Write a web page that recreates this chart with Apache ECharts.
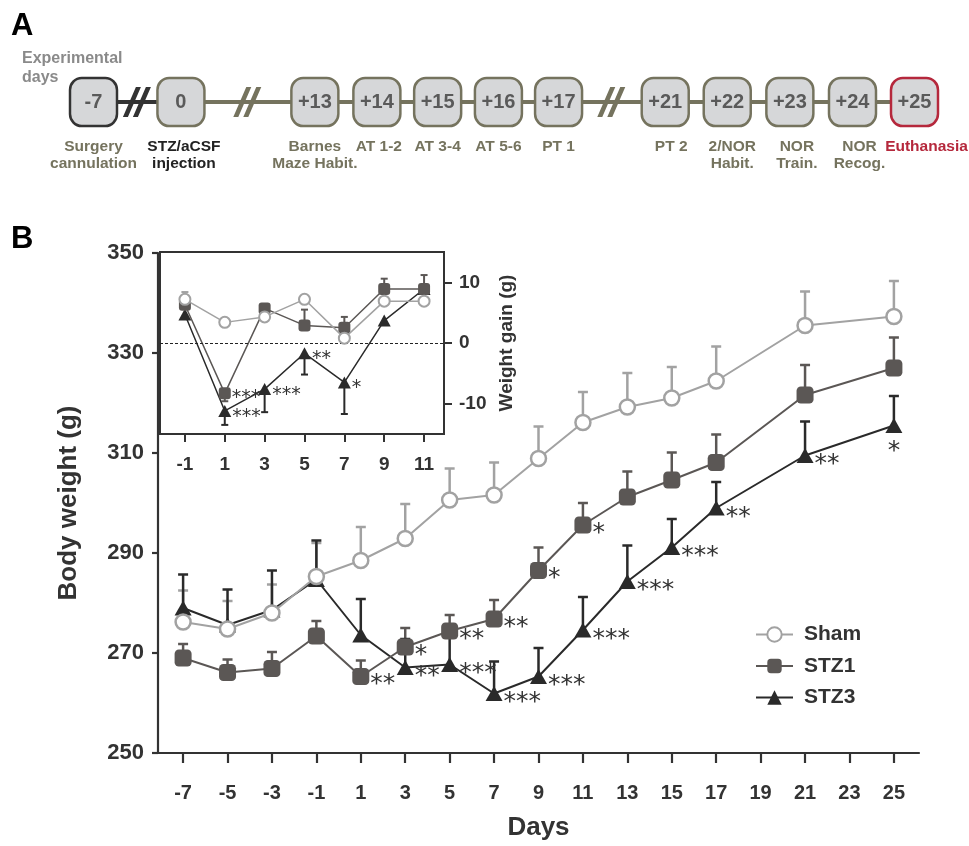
<!DOCTYPE html>
<html>
<head>
<meta charset="utf-8">
<script src="https://cdn.jsdelivr.net/npm/echarts@6/dist/echarts.min.js"></script>
<style>
html,body{margin:0;padding:0;background:#fff;}
#chart{width:969px;height:846px;}
</style>
</head>
<body>
<div id="chart"></div>
<script>
// ---------- Panel A: timeline ----------
const timelineDays = ['-7','0','+13','+14','+15','+16','+17','+21','+22','+23','+24','+25'];
const timelineEvents = ['Surgery\ncannulation','STZ/aCSF\ninjection','Barnes\nMaze Habit.','AT 1-2','AT 3-4','AT 5-6','PT 1','PT 2','2/NOR\nHabit.','NOR\nTrain.','NOR\nRecog.','Euthanasia'];
const timelineSlot = [0, 1.41, 3.57, 4.57, 5.55, 6.53, 7.5, 9.22, 10.22, 11.23, 12.24, 13.24];
const timelineBreaks = [0.70, 2.48, 8.35];

// ---------- Panel B: main body weight ----------
const days = [-7,-5,-3,-1,1,3,5,7,9,11,13,15,17,21,25];
const dayTicks = [-7,-5,-3,-1,1,3,5,7,9,11,13,15,17,19,21,23,25];
const sham    = [276.2,274.8,278.0,285.3,288.5,292.9,300.6,301.6,308.9,316.1,319.2,321.0,324.4,335.5,337.3];
const shamErr = [282.5,280.4,283.7,292.0,295.2,299.8,306.9,308.1,315.3,322.2,326.0,327.2,331.3,342.3,344.4];
const stz1    = [269.0,266.1,266.9,273.4,265.3,271.2,274.4,276.8,286.5,295.6,301.2,304.6,308.1,321.6,327.0];
const stz1Err = [271.8,268.7,270.2,276.4,268.5,275.0,277.6,280.6,291.1,300.0,306.3,310.1,313.7,327.6,333.1];
const stz3    = [279.0,275.6,278.6,284.7,273.6,267.1,267.7,261.9,265.3,274.6,284.3,291.1,299.0,309.5,315.5];
const stz3Err = [285.7,282.7,286.5,292.5,280.8,272.8,275.5,268.3,271.0,281.2,291.5,296.8,304.2,316.3,321.4];
const stz1Sig = ['','','','','**','*','**','**','*','*','','','','',''];
const stz3Sig = ['','','','','','**','***','***','***','***','***','***','**','**','*'];
const weightTicks = [250,270,290,310,330,350];

// ---------- Inset: weight gain ----------
const insetDays = [-1,1,3,5,7,9,11];
const shamGain    = [7.2,3.4,4.3,7.2,0.8,6.9,6.9];
const shamGainErr = [8.4,null,null,null,null,null,null];
const stz1Gain    = [6.3,-8.3,5.7,2.9,2.5,8.9,8.9];
const stz1GainErr = [null,-9.6,null,5.5,4.3,10.6,11.2];
const stz3Gain    = [4.7,-11.2,-7.6,-1.7,-6.5,3.7,8.9];
const stz3GainErr = [null,-13.5,-11.4,-5.2,-11.7,null,null];
const stz1GainSig = ['','***','','','','',''];
const stz3GainSig = ['','***','***','**','*','',''];
const gainTicks = [-10,0,10];

// ---------- styles ----------
const C_SHAM = '#a2a2a2', C_STZ1 = '#5b5755', C_STZ3 = '#2a2a2a';
const OLIVE = '#75735e', DARK = '#333333', RED = '#b5283c';
const FONT = 'Liberation Sans, Arial, sans-serif';
const eventLabelShift = [0,3,0,2,0,0,0,6,5,7,7,12]; // horizontal nudges of the event captions (px)

function errData(xs, ys, es){
  const out = [];
  xs.forEach((x,i)=>{ if(es[i]!==null && es[i]!==undefined) out.push([x, ys[i], es[i]]); });
  return out;
}
function errRender(capW, lw, color){
  return function(params, api){
    const x = api.value(0), y = api.value(1), e = api.value(2);
    const p0 = api.coord([x,y]), p1 = api.coord([x,e]);
    return {type:'group', children:[
      {type:'line', shape:{x1:p0[0],y1:p0[1],x2:p1[0],y2:p1[1]}, style:{stroke:color,lineWidth:lw}},
      {type:'line', shape:{x1:p1[0]-capW/2,y1:p1[1],x2:p1[0]+capW/2,y2:p1[1]}, style:{stroke:color,lineWidth:lw}}
    ]};
  };
}
function lineData(xs, ys, sigs, opts){
  return xs.map((x,i)=>{
    const item = {value:[x, ys[i]]};
    if(sigs && sigs[i]){
      item.label = Object.assign({show:true, formatter:sigs[i]}, (opts && opts(i, xs.length)) || {});
    }
    return item;
  });
}

const chart = echarts.init(document.getElementById('chart'), null, {renderer:'canvas'});

const boxBorder = timelineDays.map((d,i)=> i===0 ? DARK : (i===timelineDays.length-1 ? RED : OLIVE));
const eventColor = timelineDays.map((d,i)=> i===1 ? '#222' : (i===timelineDays.length-1 ? RED : OLIVE));

const option = {
  animation:false,
  backgroundColor:'#fff',
  title:[
    {text:'A', left:11, top:11, padding:0, textStyle:{fontFamily:FONT,fontSize:31,fontWeight:'bold',color:'#000'}},
    {text:'B', left:11, top:224, padding:0, textStyle:{fontFamily:FONT,fontSize:31,fontWeight:'bold',color:'#000'}},
    {text:'Experimental\ndays', left:22, top:49, padding:0, textStyle:{fontFamily:FONT,fontSize:16,fontWeight:'bold',color:'#8a8a8a',lineHeight:19}}
  ],
  legend:{
    data:['Sham','STZ1','STZ3'], orient:'vertical', left:755, top:624, padding:0,
    itemWidth:37, itemHeight:18, itemGap:10.5,
    textStyle:{fontFamily:FONT,fontSize:21,fontWeight:'bold',color:'#333',padding:[0,0,0,6]}
  },
  grid:[
    {left:158, top:253, width:761, height:504},
    {left:160, top:252, width:284, height:182, show:true, borderColor:'#333', borderWidth:2, backgroundColor:'transparent'},
    {left:93.5, top:52, width:821, height:100}
  ],
  xAxis:[
    {gridIndex:0, type:'value', min:-8.13, max:26.13,
      axisLine:{onZero:false, lineStyle:{color:'#333',width:2.2}},
      axisTick:{show:true, length:10, lineStyle:{color:'#333',width:2.2}, customValues:dayTicks},
      axisLabel:{customValues:dayTicks, margin:30, fontFamily:FONT, fontSize:20, fontWeight:'bold', color:'#333'},
      splitLine:{show:false},
      name:'Days', nameLocation:'middle', nameGap:62,
      nameTextStyle:{fontFamily:FONT,fontSize:26,fontWeight:'bold',color:'#333'}},
    {gridIndex:1, type:'value', min:-2.25, max:12.0,
      axisLine:{onZero:false, lineStyle:{color:'#333',width:2}},
      axisTick:{show:true, length:8, lineStyle:{color:'#333',width:2}, customValues:insetDays},
      axisLabel:{customValues:insetDays, margin:21, fontFamily:FONT, fontSize:19, fontWeight:'bold', color:'#333'},
      splitLine:{show:false}},
    {gridIndex:2, type:'value', min:0, max:13.24, show:false}
  ],
  yAxis:[
    {gridIndex:0, type:'value', min:250, max:350, interval:20,
      axisLine:{show:true, onZero:false, lineStyle:{color:'#333',width:2.2}},
      axisTick:{show:true, length:6, lineStyle:{color:'#333',width:2.2}},
      axisLabel:{margin:14, fontFamily:FONT, fontSize:22, fontWeight:'bold', color:'#333'},
      splitLine:{show:false},
      name:'Body weight (g)', nameLocation:'middle', nameGap:76, nameRotate:90,
      nameTextStyle:{fontFamily:FONT,fontSize:26,fontWeight:'bold',color:'#333'}},
    {gridIndex:1, type:'value', min:-15, max:15, position:'right',
      axisLine:{show:true, onZero:false, lineStyle:{color:'#333',width:2}},
      axisTick:{show:true, length:8, lineStyle:{color:'#333',width:2}, customValues:gainTicks},
      axisLabel:{customValues:gainTicks, margin:15, fontFamily:FONT, fontSize:19, fontWeight:'bold', color:'#333'},
      splitLine:{show:false},
      name:'Weight gain (g)', nameLocation:'middle', nameGap:53, nameRotate:90,
      nameTextStyle:{fontFamily:FONT,fontSize:19,fontWeight:'bold',color:'#333'}},
    {gridIndex:2, type:'value', min:-1, max:1, show:false}
  ],
  series:[
    // ----- main error bars -----
    {type:'custom', name:'shamErr', xAxisIndex:0, yAxisIndex:0, z:1, renderItem:errRender(10,2.5,C_SHAM), data:errData(days, sham, shamErr), encode:{x:0,y:[1,2]}},
    {type:'custom', name:'stz1Err', xAxisIndex:0, yAxisIndex:0, z:1, renderItem:errRender(10,2.5,C_STZ1), data:errData(days, stz1, stz1Err), encode:{x:0,y:[1,2]}},
    {type:'custom', name:'stz3Err', xAxisIndex:0, yAxisIndex:0, z:1, renderItem:errRender(10,2.5,C_STZ3), data:errData(days, stz3, stz3Err), encode:{x:0,y:[1,2]}},
    // ----- main lines -----
    {type:'line', name:'STZ3', xAxisIndex:0, yAxisIndex:0, z:3,
      symbol:'triangle', symbolSize:[17,15], showAllSymbol:true,
      lineStyle:{color:C_STZ3,width:2}, itemStyle:{color:C_STZ3},
      label:{show:false, position:'right', distance:1, offset:[0,9], fontFamily:'DejaVu Sans', fontSize:25, color:'#333'},
      data:lineData(days, stz3, stz3Sig, (i,n)=> i===n-1 ? {position:'bottom', distance:0, offset:[0,6]} : null)},
    {type:'line', name:'STZ1', xAxisIndex:0, yAxisIndex:0, z:4,
      symbol:'roundRect', symbolSize:17, showAllSymbol:true,
      lineStyle:{color:C_STZ1,width:2}, itemStyle:{color:C_STZ1},
      label:{show:false, position:'right', distance:1, offset:[0,8], fontFamily:'DejaVu Sans', fontSize:25, color:'#333'},
      data:lineData(days, stz1, stz1Sig)},
    {type:'line', name:'Sham', xAxisIndex:0, yAxisIndex:0, z:5,
      symbol:'circle', symbolSize:15, showAllSymbol:true,
      lineStyle:{color:C_SHAM,width:2}, itemStyle:{color:'#fff', borderColor:C_SHAM, borderWidth:2.5},
      data:lineData(days, sham, null)},
    // ----- inset -----
    {type:'custom', name:'shamGainErr', xAxisIndex:1, yAxisIndex:1, z:1, renderItem:errRender(7,2,C_SHAM), data:errData(insetDays, shamGain, shamGainErr), encode:{x:0,y:[1,2]}},
    {type:'custom', name:'stz1GainErr', xAxisIndex:1, yAxisIndex:1, z:1, renderItem:errRender(7,2,C_STZ1), data:errData(insetDays, stz1Gain, stz1GainErr), encode:{x:0,y:[1,2]}},
    {type:'custom', name:'stz3GainErr', xAxisIndex:1, yAxisIndex:1, z:1, renderItem:errRender(7,2,C_STZ3), data:errData(insetDays, stz3Gain, stz3GainErr), encode:{x:0,y:[1,2]}},
    {type:'line', name:'STZ3', xAxisIndex:1, yAxisIndex:1, z:3,
      symbol:'triangle', symbolSize:[13,12], showAllSymbol:true,
      lineStyle:{color:C_STZ3,width:1.5}, itemStyle:{color:C_STZ3},
      label:{show:false, position:'right', distance:1, offset:[0,6], fontFamily:'DejaVu Sans', fontSize:19, color:'#333'},
      data:lineData(insetDays, stz3Gain, stz3GainSig)},
    {type:'line', name:'STZ1', xAxisIndex:1, yAxisIndex:1, z:4,
      symbol:'roundRect', symbolSize:12, showAllSymbol:true,
      lineStyle:{color:C_STZ1,width:1.5}, itemStyle:{color:C_STZ1},
      label:{show:false, position:'right', distance:1, offset:[0,5], fontFamily:'DejaVu Sans', fontSize:19, color:'#333'},
      data:lineData(insetDays, stz1Gain, stz1GainSig)},
    {type:'line', name:'Sham', xAxisIndex:1, yAxisIndex:1, z:5,
      symbol:'circle', symbolSize:11, showAllSymbol:true,
      lineStyle:{color:C_SHAM,width:1.5}, itemStyle:{color:'#fff', borderColor:C_SHAM, borderWidth:2},
      data:lineData(insetDays, shamGain, null),
      markLine:{silent:true, symbol:['none','none'], label:{show:false}, lineStyle:{type:[3,2], color:'#222', width:1.2}, data:[{yAxis:0}]}},
    // ----- timeline -----
    {type:'line', name:'tlDark', xAxisIndex:2, yAxisIndex:2, z:1, symbol:'none', silent:true,
      lineStyle:{color:DARK,width:4}, data:[[timelineSlot[0],0],[timelineSlot[1],0]]},
    {type:'line', name:'tlOlive', xAxisIndex:2, yAxisIndex:2, z:1, symbol:'none', silent:true,
      lineStyle:{color:OLIVE,width:4}, data:timelineSlot.slice(1).map(s=>[s,0])},
    {type:'scatter', name:'tlBreaks', xAxisIndex:2, yAxisIndex:2, z:2, silent:true,
      symbol:'path://M0,30 L5,30 L18,0 L13,0 Z M10,30 L15,30 L28,0 L23,0 Z', symbolSize:[28,30],
      data:timelineBreaks.map((s,i)=>({value:[s,0], itemStyle:{opacity:1, color: i===0 ? DARK : OLIVE}}))},
    {type:'scatter', name:'tlBoxes', xAxisIndex:2, yAxisIndex:2, z:3, silent:true,
      symbol:'roundRect', symbolSize:[47,48],
      label:{show:true, position:'inside', fontFamily:FONT, fontSize:20, fontWeight:'bold', color:'#5a5a5a',
        formatter:p=>timelineDays[p.dataIndex]},
      data:timelineSlot.map((s,i)=>({value:[s,0], itemStyle:{opacity:1, color:'#d6d7d9', borderColor:boxBorder[i], borderWidth:2.5}}))},
    {type:'scatter', name:'tlEvents', xAxisIndex:2, yAxisIndex:2, z:3, silent:true,
      symbol:'rect', symbolSize:[47,48], itemStyle:{color:'rgba(0,0,0,0)', opacity:1},
      label:{show:true, position:'bottom', distance:12, fontFamily:FONT, fontSize:15.5, fontWeight:'bold', lineHeight:17, align:'center',
        formatter:p=>timelineEvents[p.dataIndex]},
      data:timelineSlot.map((s,i)=>({value:[s,0], label:{color:eventColor[i], offset:[eventLabelShift[i],0]}}))}
  ]
};
chart.setOption(option);
</script>
</body>
</html>
